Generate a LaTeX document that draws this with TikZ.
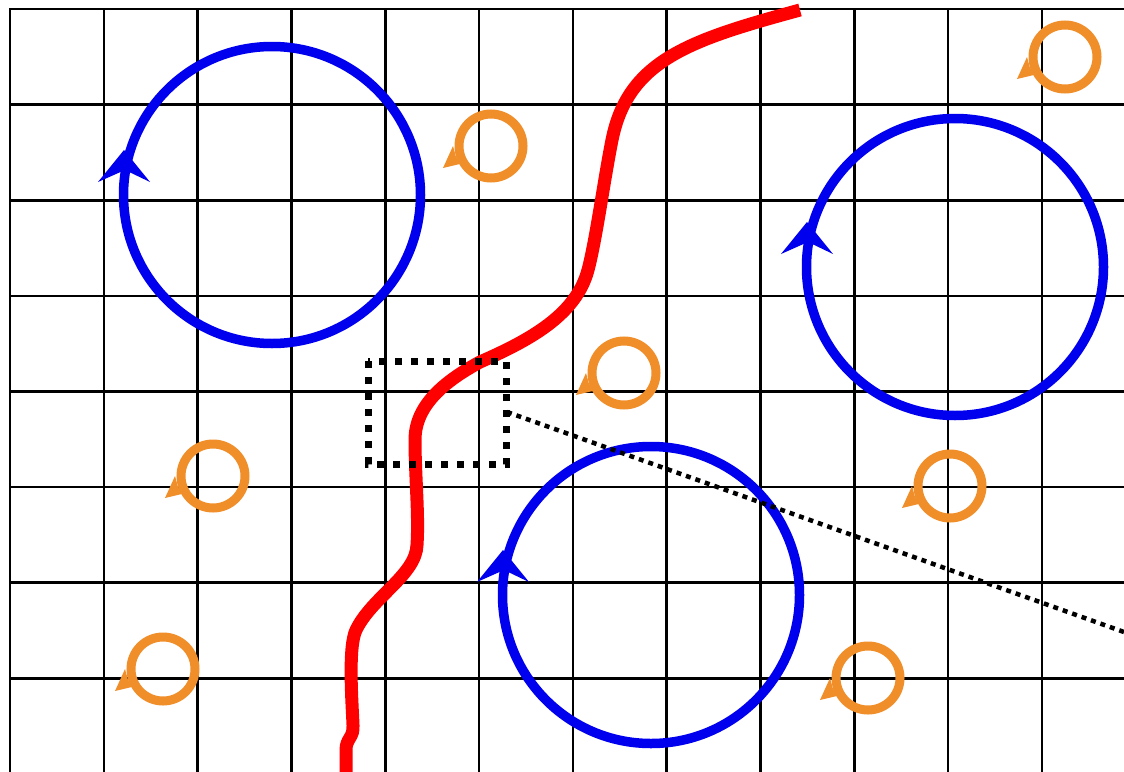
\documentclass[tikz,border=0pt]{standalone}
\definecolor{ringblue}{RGB}{0,0,238}
\definecolor{ringorange}{RGB}{240,142,42}
\definecolor{curvered}{RGB}{255,0,0}
\tikzset{
  gridline/.style={black, line width=2.6pt, line cap=rect},
  bigring/.style={ringblue, line width=9.5pt},
  smallring/.style={ringorange, line width=9pt},
  redpath/.style={curvered, line width=13pt},
  dotbox/.style={black, line width=7pt, dash pattern=on 7pt off 9pt},
  dotline/.style={black, line width=4.5pt, dash pattern=on 5pt off 5pt},
  bluering/.pic={
    \draw[bigring] (0,0) circle[radius=148.5];
    \fill[ringblue] (-148,-45) -- (-174,-13) -- (-147,-25) -- (-122,-13) -- cycle;
  },
  orangering/.pic={
    \draw[smallring] (0,0) circle[radius=32];
    \fill[ringorange] (-48,22) -- (-38,0) -- (-35,11) -- (-27,17) -- cycle;
  }
}
\begin{document}
\begin{tikzpicture}[x=1pt,y=-1pt]
\useasboundingbox (0,0) rectangle (1124,771);
\fill[white] (0,0) rectangle (1124,771);
\begin{scope}
\clip (0,0) rectangle (1124,771);
% grid
\foreach \i in {0,...,11}
  \draw[gridline] ({10+93.8*\i},9) -- ({10+93.8*\i},780);
\foreach \j in {0,...,7}
  \draw[gridline] (10,{9+95.6*\j}) -- (1130,{9+95.6*\j});
% big blue rings
\coordinate (B1) at (272,195);
\coordinate (B2) at (955,267);
\coordinate (B3) at (651,595);
\pic at (B1) {bluering};
\pic at (B2) {bluering};
\pic at (B3) {bluering};
% small orange rings
\coordinate (O1) at (1065,57);
\coordinate (O2) at (491,146);
\coordinate (O3) at (624,373);
\coordinate (O4) at (213,476);
\coordinate (O5) at (950,486);
\coordinate (O6) at (163,669);
\coordinate (O7) at (868,678);
\foreach \o in {O1,O2,O3,O4,O5,O6,O7}
  \pic at (\o) {orangering};
% red curve
\coordinate (R0) at (800,10);
\coordinate (R8) at (346,775);
\draw[redpath] (R0)
  .. controls (690,40) and (628,60) .. (612,140)
  .. controls (604,180) and (596,240) .. (588,270)
  .. controls (576,315) and (530,340) .. (480,362)
  .. controls (445,381) and (415,405) .. (415,440)
  .. controls (415,475) and (419,515) .. (417,545)
  .. controls (416,575) and (372,597) .. (356,630)
  .. controls (348,647) and (352,700) .. (353,725)
  .. controls (354,738) and (346,738) .. (346,750)
  -- (R8);
% dotted box and dotted line
\coordinate (boxNW) at (368,361);
\coordinate (boxSE) at (506,464);
\coordinate (lineStart) at (507,412);
\coordinate (lineEnd) at (1124,632);
\draw[dotbox] (boxNW) rectangle (boxSE);
\draw[dotline] (lineStart) -- (lineEnd);
\end{scope}
\end{tikzpicture}
\end{document}
